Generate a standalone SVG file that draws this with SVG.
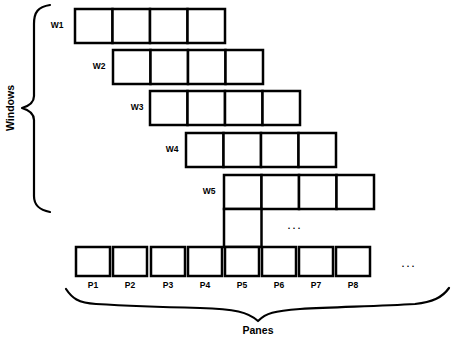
<svg xmlns="http://www.w3.org/2000/svg" width="451" height="337" viewBox="0 0 451 337">
  <style>
    .cell { fill: #fff; stroke: #000; stroke-width: 2.5; }
    .lbl { font-family: "Liberation Sans", Arial, sans-serif; font-weight: bold; font-size: 8.5px; fill: #000; }
    .big { font-family: "Liberation Sans", Arial, sans-serif; font-weight: bold; font-size: 10.5px; fill: #000; }
    .brace { fill: none; stroke: #000; stroke-width: 2.2; stroke-linejoin: round; stroke-linecap: round; }
    .dots { font-family: "Liberation Sans", Arial, sans-serif; font-weight: bold; font-size: 9px; fill: #000; }
  </style>
  <defs>
    <g id="win4">
      <rect class="cell" x="0" y="0" width="37.5" height="34"/>
      <rect class="cell" x="37.5" y="0" width="37.5" height="34"/>
      <rect class="cell" x="75" y="0" width="37.5" height="34"/>
      <rect class="cell" x="112.5" y="0" width="37.5" height="34"/>
    </g>
    <rect id="pane" class="cell" x="0" y="0" width="34" height="29"/>
  </defs>
  <rect width="451" height="337" fill="#fff"/>

  <!-- windows -->
  <g id="w1"><use href="#win4" x="75" y="9"/><text class="lbl" x="57" y="28" text-anchor="middle">W1</text></g>
  <g id="w2"><use href="#win4" x="113" y="50"/><text class="lbl" x="99" y="69" text-anchor="middle">W2</text></g>
  <g id="w3"><use href="#win4" x="150" y="91"/><text class="lbl" x="137" y="110" text-anchor="middle">W3</text></g>
  <g id="w4"><use href="#win4" x="186" y="133"/><text class="lbl" x="172" y="152" text-anchor="middle">W4</text></g>
  <g id="w5"><use href="#win4" x="224" y="175"/><text class="lbl" x="209" y="194" text-anchor="middle">W5</text></g>

  <!-- column joining W5 to pane P5 -->
  <g id="link"><rect class="cell" x="224" y="209" width="37.5" height="38"/></g>

  <!-- panes -->
  <g id="p1"><use href="#pane" x="76" y="247"/><text class="lbl" x="93" y="288" text-anchor="middle">P1</text></g>
  <g id="p2"><use href="#pane" x="113" y="247"/><text class="lbl" x="130" y="288" text-anchor="middle">P2</text></g>
  <g id="p3"><use href="#pane" x="151" y="247"/><text class="lbl" x="168" y="288" text-anchor="middle">P3</text></g>
  <g id="p4"><use href="#pane" x="188" y="247"/><text class="lbl" x="205" y="288" text-anchor="middle">P4</text></g>
  <g id="p5"><use href="#pane" x="225" y="247"/><text class="lbl" x="242" y="288" text-anchor="middle">P5</text></g>
  <g id="p6"><use href="#pane" x="262" y="247"/><text class="lbl" x="279" y="288" text-anchor="middle">P6</text></g>
  <g id="p7"><use href="#pane" x="299" y="247"/><text class="lbl" x="316" y="288" text-anchor="middle">P7</text></g>
  <g id="p8"><use href="#pane" x="336" y="247"/><text class="lbl" x="353" y="288" text-anchor="middle">P8</text></g>

  <text class="dots" x="294" y="229" text-anchor="middle">. . .</text>
  <text class="dots" x="408" y="267" text-anchor="middle">. . .</text>

  <!-- braces -->
  <g id="windows-brace">
    <path class="brace" d="M50,5 C38,7 34,12 34,24 L34,96 C34,103 29,106 22,108 C29,110 34,113 34,120 L34,196 C34,206 40,210 50,212"/>
    <text class="big" transform="translate(14,108) rotate(-90)" text-anchor="middle">Windows</text>
  </g>
  <g id="panes-brace">
    <path class="brace" d="M66,289 C72,298 78,303 96,304 C130,306 160,307 200,308 C235,309 248,312 258,321 C266,313 274,311 300,309 C340,307 380,306 415,304 C432,302 442,298 449,288"/>
    <text class="big" x="258" y="334" text-anchor="middle">Panes</text>
  </g>
</svg>
